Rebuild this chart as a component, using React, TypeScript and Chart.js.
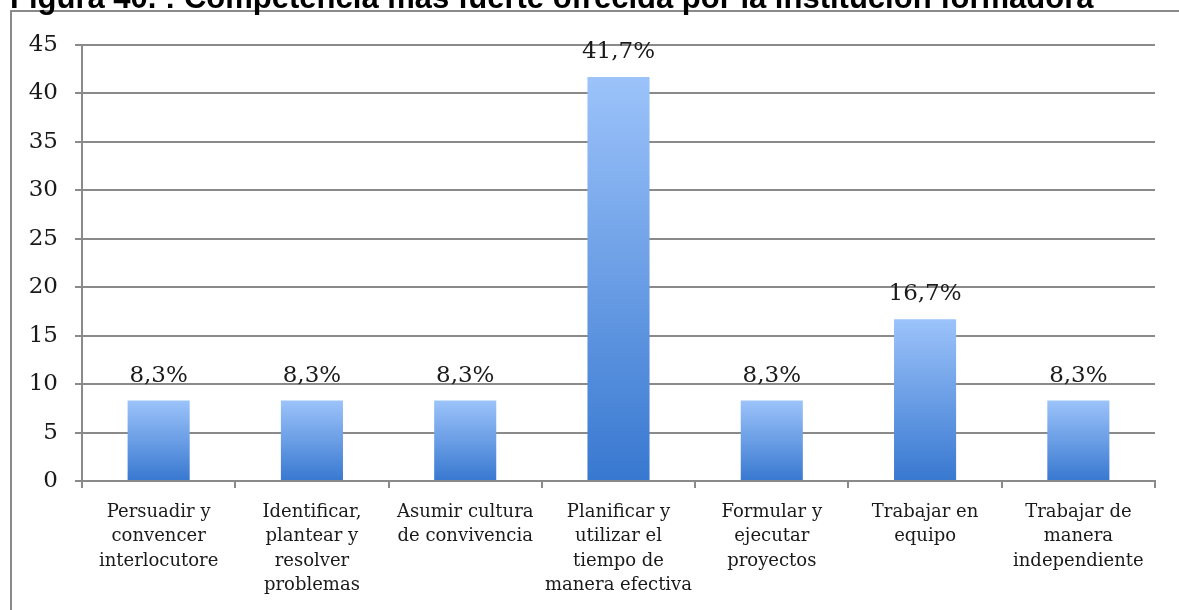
import React, { useEffect, useRef } from "react";
import { Chart, registerables } from "chart.js";

Chart.register(...registerables);

const titleText = "Figura 40. : Competencia más fuerte ofrecida por la institución formadora";

const categories: string[][] = [
  ["Persuadir y", "convencer", "interlocutore"],
  ["Identificar,", "plantear y", "resolver", "problemas"],
  ["Asumir cultura", "de convivencia"],
  ["Planificar y", "utilizar el", "tiempo de", "manera efectiva"],
  ["Formular y", "ejecutar", "proyectos"],
  ["Trabajar en", "equipo"],
  ["Trabajar de", "manera", "independiente"],
];

const values: number[] = [8.3, 8.3, 8.3, 41.7, 8.3, 16.7, 8.3];
const valueLabels: string[] = ["8,3%", "8,3%", "8,3%", "41,7%", "8,3%", "16,7%", "8,3%"];

const yMin = 0;
const yMax = 45;
const yStep = 5;

const SERIF = "'DejaVu Serif', serif";
const GRID = "#8a8a8a";
const TEXT = "#1a1a1a";

export default function App() {
  const ref = useRef<HTMLCanvasElement | null>(null);

  useEffect(() => {
    const canvas = ref.current;
    if (!canvas) return;

    const framePlugin = {
      id: "frameTitle",
      beforeDraw(chart: any) {
        const c = chart.ctx;
        c.save();
        c.fillStyle = "#ffffff";
        c.fillRect(0, 0, chart.width, chart.height);
        c.strokeStyle = GRID;
        c.lineWidth = 2;
        c.beginPath();
        c.moveTo(11, chart.height + 2);
        c.lineTo(11, 11);
        c.lineTo(chart.width + 2, 11);
        c.stroke();
        c.fillStyle = "#000";
        c.font = "bold 31px 'Liberation Sans', Arial, sans-serif";
        c.textBaseline = "alphabetic";
        c.textAlign = "left";
        c.fillText(titleText, 10, 8);
        c.restore();
      },
      afterDatasetsDraw(chart: any) {
        const c = chart.ctx;
        const meta = chart.getDatasetMeta(0);
        c.save();
        c.fillStyle = TEXT;
        c.font = `23px ${SERIF}`;
        c.textAlign = "center";
        c.textBaseline = "alphabetic";
        meta.data.forEach((el: any, i: number) => {
          c.fillText(valueLabels[i], el.x, el.y - 19);
        });
        c.restore();
      },
    };

    const chart = new Chart(canvas, {
      type: "bar",
      data: {
        labels: categories,
        datasets: [
          {
            data: values,
            backgroundColor: (ctx: any) => {
              const ch = ctx.chart;
              const y = ch.scales && ch.scales.y;
              if (!y || ctx.type !== "data") return "#6a9fe6";
              const top = y.getPixelForValue(ctx.raw);
              const base = y.getPixelForValue(0);
              if (!isFinite(top) || !isFinite(base) || top === base) return "#6a9fe6";
              const g = ch.ctx.createLinearGradient(0, top, 0, base);
              g.addColorStop(0, "#9cc3fa");
              g.addColorStop(1, "#3878d0");
              return g;
            },
            borderWidth: 0,
            categoryPercentage: 1,
            barPercentage: 0.405,
          },
        ],
      },
      options: {
        responsive: false,
        animation: false,
        devicePixelRatio: 1,
        layout: { padding: { left: 0, top: 45, right: 24, bottom: 0 } },
        plugins: {
          legend: { display: false },
          tooltip: { enabled: false },
          title: { display: false },
        },
        scales: {
          x: {
            offset: true,
            grid: {
              offset: true,
              drawOnChartArea: false,
              drawTicks: true,
              tickLength: 7,
              color: GRID,
              lineWidth: 2,
            },
            border: { display: true, color: GRID, width: 2 },
            ticks: {
              color: TEXT,
              font: { family: SERIF, size: 18, lineHeight: 1.36 },
              padding: 12,
              maxRotation: 0,
              autoSkip: false,
            },
            afterFit: (s: any) => {
              s.height = 129;
            },
          },
          y: {
            min: yMin,
            max: yMax,
            grid: {
              color: GRID,
              lineWidth: 2,
              drawTicks: true,
              tickLength: 7,
            },
            border: { display: true, color: GRID, width: 2 },
            ticks: {
              stepSize: yStep,
              color: TEXT,
              font: { family: SERIF, size: 23 },
              padding: 17,
            },
            afterFit: (s: any) => {
              s.width = 82;
            },
          },
        },
      },
      plugins: [framePlugin],
    } as any);

    return () => chart.destroy();
  }, []);

  return (
    <div style={{ position: "absolute", left: 0, top: 0, width: 1179, height: 610, background: "#fff" }}>
      <canvas ref={ref} width={1179} height={610} style={{ display: "block" }} />
    </div>
  );
}
